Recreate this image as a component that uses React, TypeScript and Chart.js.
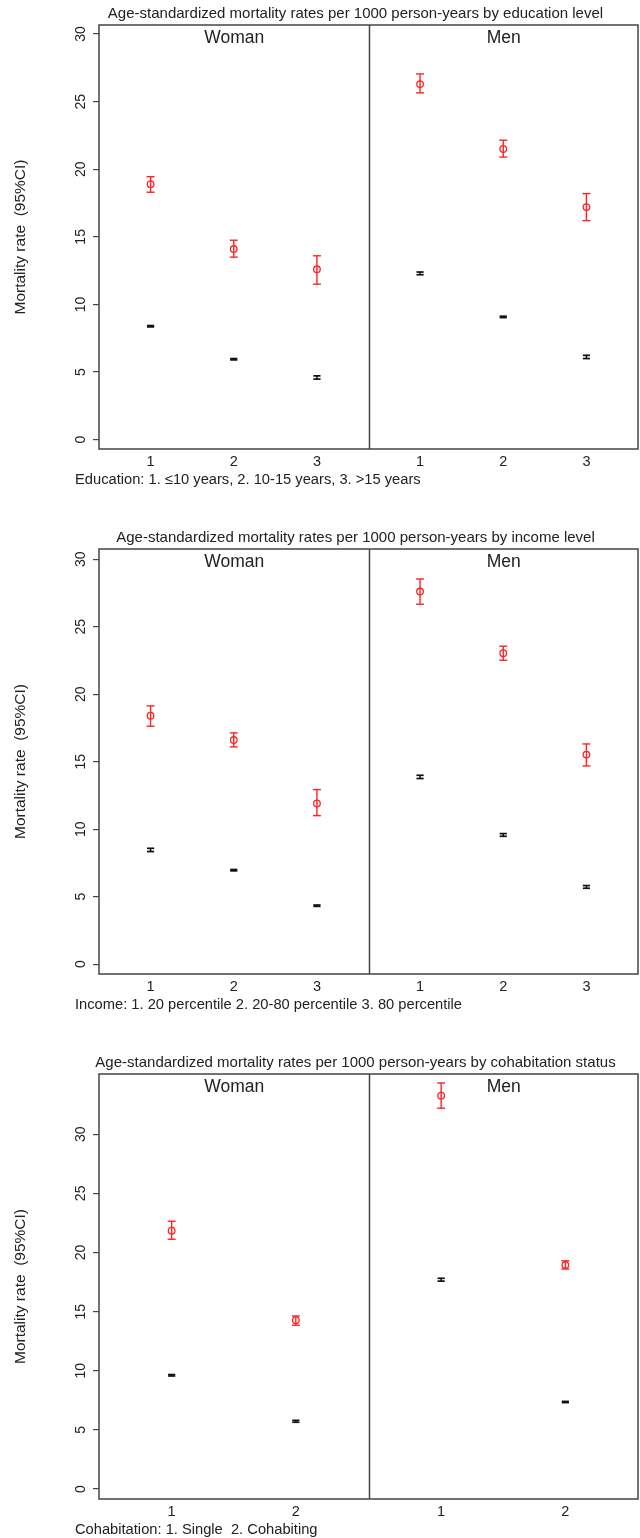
import React, { useEffect, useRef } from "react";
import { Chart, registerables } from "chart.js";

Chart.register(...registerables);
Chart.defaults.font.family = '"Liberation Sans", Arial, sans-serif';

// ---------- Data ----------
const yTickValues = [0, 5, 10, 15, 20, 25, 30];
const groupLabels = ["Woman", "Men"];
const yAxisTitle = "Mortality rate  (95%CI)";

// Education
const eduTitle = "Age-standardized mortality rates per 1000 person-years by education level";
const eduCaption = "Education: 1. \u226410 years, 2. 10-15 years, 3. >15 years";
const eduCategories = ["1", "2", "3"];
const eduWomanRed = [18.9, 14.1, 12.6];
const eduWomanRedLo = [18.3, 13.5, 11.5];
const eduWomanRedHi = [19.45, 14.75, 13.6];
const eduWomanBlack = [8.39, 5.95, 4.6];
const eduWomanBlackLo = [8.34, 5.9, 4.48];
const eduWomanBlackHi = [8.44, 6.0, 4.72];
const eduMenRed = [26.3, 21.5, 17.2];
const eduMenRedLo = [25.65, 20.9, 16.2];
const eduMenRedHi = [27.05, 22.15, 18.2];
const eduMenBlack = [12.3, 9.08, 6.12];
const eduMenBlackLo = [12.2, 9.03, 6.0];
const eduMenBlackHi = [12.4, 9.13, 6.24];

// Income
const incTitle = "Age-standardized mortality rates per 1000 person-years by income level";
const incCaption = "Income: 1. 20 percentile 2. 20-80 percentile 3. 80 percentile";
const incCategories = ["1", "2", "3"];
const incWomanRed = [18.4, 16.6, 11.9];
const incWomanRedLo = [17.62, 16.09, 11.0];
const incWomanRedHi = [19.13, 17.13, 12.93];
const incWomanBlack = [8.46, 6.96, 4.33];
const incWomanBlackLo = [8.34, 6.91, 4.28];
const incWomanBlackHi = [8.58, 7.01, 4.38];
const incMenRed = [27.6, 23.03, 15.52];
const incMenRedLo = [26.66, 22.51, 14.68];
const incMenRedHi = [28.53, 23.55, 16.31];
const incMenBlack = [13.87, 9.57, 5.72];
const incMenBlackLo = [13.75, 9.47, 5.62];
const incMenBlackHi = [13.99, 9.67, 5.82];

// Cohabitation
const cohTitle = "Age-standardized mortality rates per 1000 person-years by cohabitation status";
const cohCaption = "Cohabitation: 1. Single  2. Cohabiting";
const cohCategories = ["1", "2"];
const cohWomanRed = [21.84, 14.27];
const cohWomanRedLo = [21.12, 13.85];
const cohWomanRedHi = [22.64, 14.63];
const cohWomanBlack = [9.62, 5.73];
const cohWomanBlackLo = [9.56, 5.65];
const cohWomanBlackHi = [9.68, 5.81];
const cohMenRed = [33.26, 18.94];
const cohMenRedLo = [32.2, 18.6];
const cohMenRedHi = [34.33, 19.3];
const cohMenBlack = [17.7, 7.36];
const cohMenBlackLo = [17.58, 7.31];
const cohMenBlackHi = [17.82, 7.41];

// ---------- Styling / layout ----------
const RED = "rgb(255,35,35)";
const BLACK = "#111";
const FRAME = "#444";
const TEXT = "#222";
const FONT = '"Liberation Sans", Arial, sans-serif';

type PanelCfg = {
  title: string;
  caption: string;
  categories: string[];
  woman: number[][]; // [red, redLo, redHi, black, blackLo, blackHi]
  men: number[][];
  pad: number;
  yMin: number;
  yMax: number;
  top: number;
  height: number;
  padTop: number;
  xAxisHeight: number;
};

const panels: PanelCfg[] = [
  {
    title: eduTitle,
    caption: eduCaption,
    categories: eduCategories,
    woman: [eduWomanRed, eduWomanRedLo, eduWomanRedHi, eduWomanBlack, eduWomanBlackLo, eduWomanBlackHi],
    men: [eduMenRed, eduMenRedLo, eduMenRedHi, eduMenBlack, eduMenBlackLo, eduMenBlackHi],
    pad: 0.62,
    yMin: -0.69,
    yMax: 30.67,
    top: 0,
    height: 500,
    padTop: 25,
    xAxisHeight: 51,
  },
  {
    title: incTitle,
    caption: incCaption,
    categories: incCategories,
    woman: [incWomanRed, incWomanRedLo, incWomanRedHi, incWomanBlack, incWomanBlackLo, incWomanBlackHi],
    men: [incMenRed, incMenRedLo, incMenRedHi, incMenBlack, incMenBlackLo, incMenBlackHi],
    pad: 0.62,
    yMin: -0.73,
    yMax: 30.75,
    top: 500,
    height: 525,
    padTop: 49,
    xAxisHeight: 51,
  },
  {
    title: cohTitle,
    caption: cohCaption,
    categories: cohCategories,
    woman: [cohWomanRed, cohWomanRedLo, cohWomanRedHi, cohWomanBlack, cohWomanBlackLo, cohWomanBlackHi],
    men: [cohMenRed, cohMenRedLo, cohMenRedHi, cohMenBlack, cohMenBlackLo, cohMenBlackHi],
    pad: 0.585,
    yMin: -0.84,
    yMax: 35.09,
    top: 1025,
    height: 513,
    padTop: 49,
    xAxisHeight: 39,
  },
];

const decorPlugin = {
  id: "decor",
  afterDraw(chart: any, _args: any, opts: any) {
    const { ctx, chartArea: a, scales } = chart;
    const xs = scales.x;
    const ys = scales.y;
    ctx.save();
    // frame
    ctx.strokeStyle = FRAME;
    ctx.lineWidth = 1.5;
    ctx.strokeRect(a.left, a.top, a.right - a.left, a.bottom - a.top);
    const divX = Math.round(xs.getPixelForValue(opts.divider)) + 0.5;
    ctx.beginPath();
    ctx.moveTo(divX, a.top);
    ctx.lineTo(divX, a.bottom);
    ctx.stroke();
    // panel headers
    ctx.fillStyle = TEXT;
    ctx.textAlign = "center";
    ctx.textBaseline = "middle";
    ctx.font = `17.5px ${FONT}`;
    ctx.fillText(groupLabels[0], (a.left + divX) / 2, a.top + 13);
    ctx.fillText(groupLabels[1], (divX + a.right) / 2, a.top + 13);
    // x tick labels
    ctx.font = `14.5px ${FONT}`;
    (opts.xTicks as number[]).forEach((v, i) => {
      ctx.fillText(opts.xLabels[i], xs.getPixelForValue(v), a.bottom + 13);
    });
    // title
    ctx.font = `15px ${FONT}`;
    ctx.fillText(opts.title, 355.5, a.top - 11);
    // caption
    ctx.textAlign = "left";
    ctx.font = `14.7px ${FONT}`;
    ctx.fillText(opts.caption, 75, a.bottom + 31);
    // y tick labels (rotated)
    ctx.textAlign = "center";
    ctx.font = `14px ${FONT}`;
    for (const t of ys.ticks) {
      const py = ys.getPixelForValue(t.value);
      ctx.save();
      ctx.translate(81, py);
      ctx.rotate(-Math.PI / 2);
      ctx.fillText(String(t.value), 0, 0);
      ctx.restore();
    }
    // y axis title
    ctx.save();
    ctx.font = `15.5px ${FONT}`;
    ctx.translate(21, (a.top + a.bottom) / 2);
    ctx.rotate(-Math.PI / 2);
    ctx.fillText(yAxisTitle, 0, 0);
    ctx.restore();
    ctx.restore();
  },
};

function ciData(xs: number[], lo: number[], hi: number[]) {
  const out: any[] = [];
  xs.forEach((x, i) => {
    out.push({ x, y: lo[i] });
    out.push({ x, y: hi[i] });
    out.push({ x, y: null });
  });
  return out;
}

function Panel({ cfg }: { cfg: PanelCfg }) {
  const ref = useRef<HTMLCanvasElement | null>(null);
  useEffect(() => {
    if (!ref.current) return;
    const n = cfg.categories.length;
    const span = n - 1 + 2 * cfg.pad;
    const xMin = 1 - cfg.pad;
    const xMax = xMin + 2 * span;
    const divider = xMin + span;
    const wx = cfg.categories.map((_, i) => i + 1);
    const mx = cfg.categories.map((_, i) => i + 1 + span);
    const allX = [...wx, ...mx];
    const allLabels = [...cfg.categories, ...cfg.categories];
    const [wR, wRL, wRH, wB, wBL, wBH] = cfg.woman;
    const [mR, mRL, mRH, mB, mBL, mBH] = cfg.men;

    const chart = new Chart(ref.current, {
      type: "scatter",
      data: {
        datasets: [
          {
            data: [...ciData(wx, wBL, wBH), ...ciData(mx, mBL, mBH)],
            showLine: true,
            spanGaps: false,
            borderColor: BLACK,
            borderWidth: 1.5,
            pointStyle: "line",
            pointRadius: 3.6,
            pointBorderWidth: 1.7,
            pointBorderColor: BLACK,
          },
          {
            data: [...ciData(wx, wRL, wRH), ...ciData(mx, mRL, mRH)],
            showLine: true,
            spanGaps: false,
            borderColor: RED,
            borderWidth: 1.4,
            pointStyle: "line",
            pointRadius: 4,
            pointBorderWidth: 1.4,
            pointBorderColor: RED,
          },
          {
            data: [
              ...wx.map((x, i) => ({ x, y: wR[i] })),
              ...mx.map((x, i) => ({ x, y: mR[i] })),
            ],
            showLine: false,
            pointStyle: "circle",
            pointRadius: 3.3,
            pointBorderWidth: 1.3,
            pointBorderColor: RED,
            pointBackgroundColor: "rgba(0,0,0,0)",
          },
        ],
      } as any,
      options: {
        animation: false,
        responsive: false,
        devicePixelRatio: 1,
        layout: { autoPadding: false, padding: { top: cfg.padTop, right: 2, left: 0, bottom: 0 } },
        plugins: {
          legend: { display: false },
          tooltip: { enabled: false },
          decor: { title: cfg.title, caption: cfg.caption, divider, xTicks: allX, xLabels: allLabels },
        } as any,
        scales: {
          x: {
            type: "linear",
            min: xMin,
            max: xMax,
            grid: { display: false, drawTicks: false },
            border: { display: false },
            afterBuildTicks: (s: any) => {
              s.ticks = allX.map((v) => ({ value: v }));
            },
            afterFit: (s: any) => {
              s.height = cfg.xAxisHeight;
              s.paddingLeft = 0;
              s.paddingRight = 0;
            },
            ticks: { display: false },
          },
          y: {
            type: "linear",
            min: cfg.yMin,
            max: cfg.yMax,
            afterBuildTicks: (s: any) => {
              s.ticks = yTickValues.map((v) => ({ value: v }));
            },
            afterFit: (s: any) => {
              s.width = 99;
              s.paddingTop = 0;
              s.paddingBottom = 0;
            },
            grid: {
              drawOnChartArea: false,
              drawTicks: true,
              tickLength: 6,
              color: FRAME,
              lineWidth: 1.2,
            },
            border: { display: false },
            ticks: { color: "rgba(0,0,0,0)", font: { size: 14 }, padding: 4 },
          },
        },
      } as any,
      plugins: [decorPlugin as any],
    });
    return () => chart.destroy();
  }, [cfg]);
  return (
    <canvas
      ref={ref}
      width={640}
      height={cfg.height}
      style={{ position: "absolute", left: 0, top: cfg.top, width: 640, height: cfg.height, display: "block" }}
    />
  );
}

export default function App() {
  return (
    <div style={{ position: "absolute", left: 0, top: 0, width: 640, height: 1538, background: "#fff", overflow: "hidden" }}>
      {panels.map((p, i) => (
        <Panel key={i} cfg={p} />
      ))}
    </div>
  );
}
